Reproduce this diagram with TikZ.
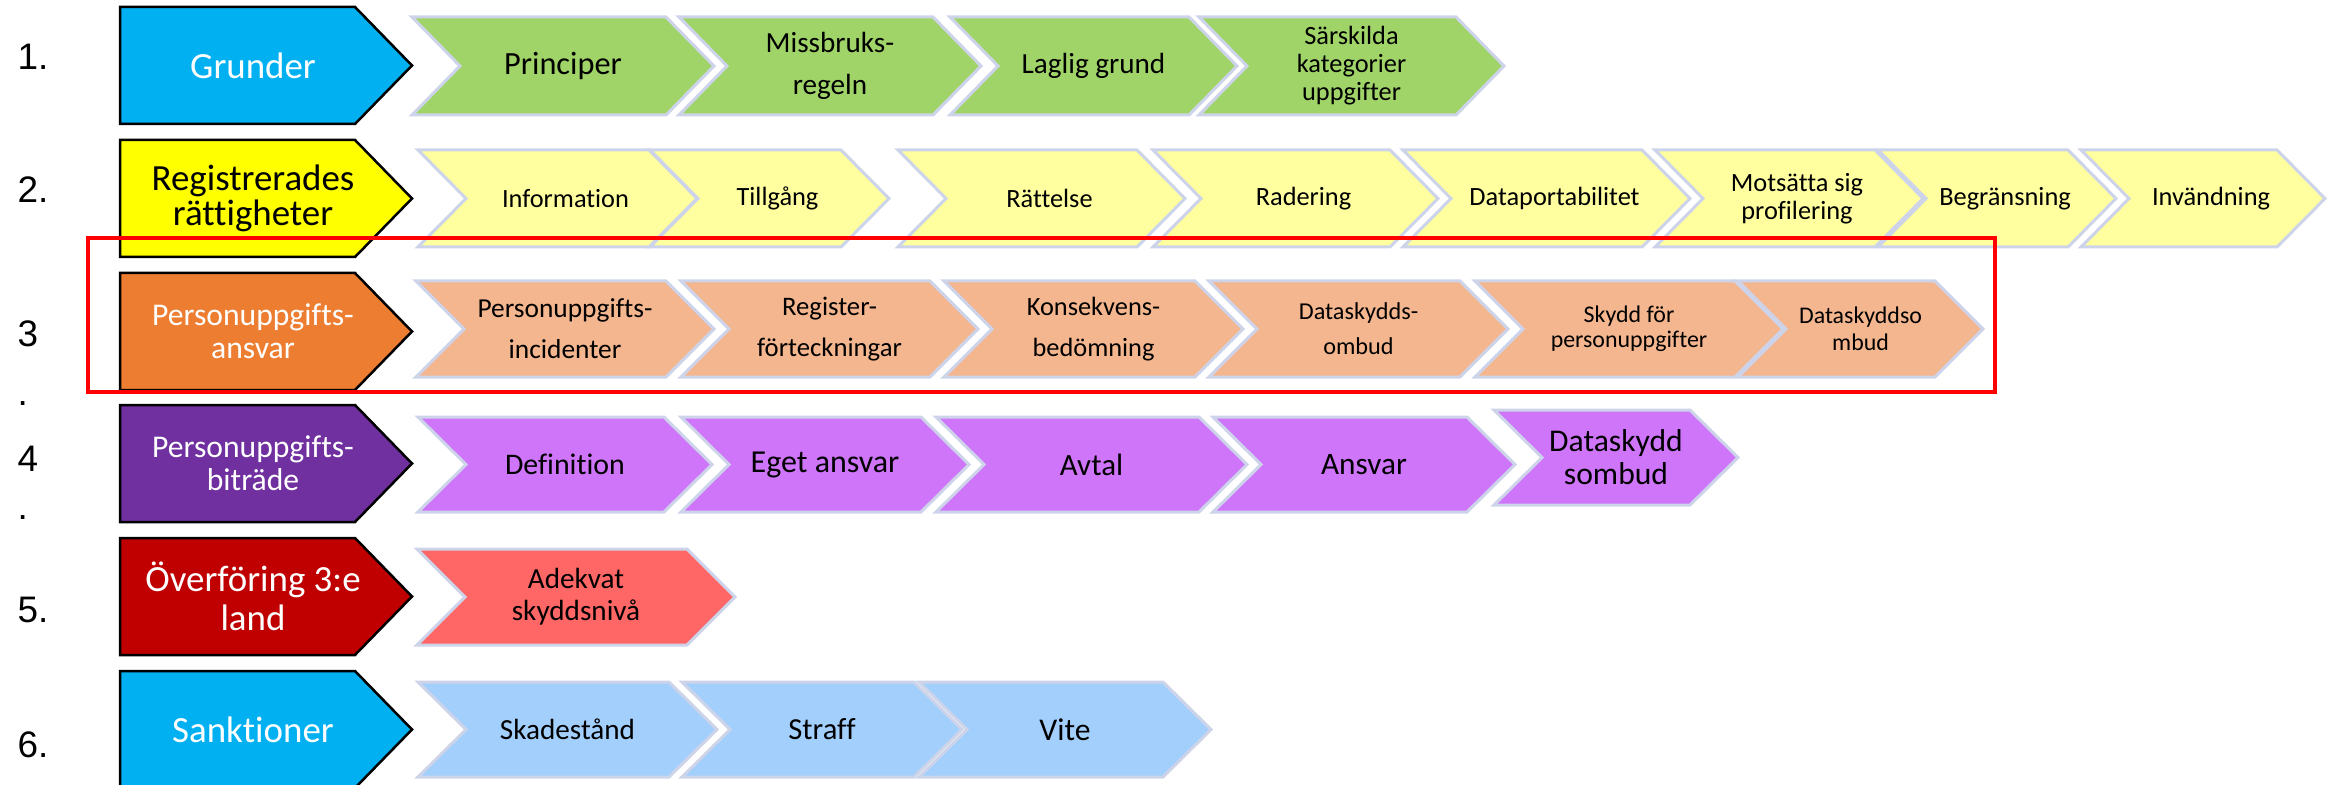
\documentclass[tikz,border=0pt]{standalone}
\usepackage{fontspec}
\setmainfont{Carlito}[Ligatures=NoCommon]
\newfontfamily\numfont{Liberation Sans}
\usepackage{tikz}

\definecolor{headblue}{RGB}{0,176,240}
\definecolor{headyellow}{RGB}{255,255,0}
\definecolor{headorange}{RGB}{237,125,49}
\definecolor{headpurple}{RGB}{112,48,160}
\definecolor{headred}{RGB}{192,0,0}
\definecolor{chgreen}{RGB}{160,212,104}
\definecolor{chyellow}{RGB}{255,255,128}
\definecolor{chorange}{RGB}{244,182,142}
\definecolor{chpurple}{RGB}{207,117,250}
\definecolor{chred}{RGB}{255,102,102}
\definecolor{chblue}{RGB}{163,207,252}
\definecolor{chline}{RGB}{205,212,234}

\newcommand{\fs}[2]{\fontsize{#1}{#2}\selectfont}

\begin{document}
\begin{tikzpicture}[x=0.1mm, y=-0.1mm,
    headbox/.style={draw=black, line width=0.25mm, line join=miter},
    chevbox/.style={draw=chline, line width=0.3mm, line join=miter},
    headtext/.style={align=center, inner sep=0pt},
    chevtext/.style={align=center, inner sep=0pt, text=black},
    rownum/.style={anchor=west, inner sep=0pt, font=\numfont\fs{10.5}{12}}]
  \useasboundingbox (0,0) rectangle (2340,785);

  \foreach \n/\t/\c/\tc/\f/\s/\lbl in {1/7/headblue/white/10.5/10/{Grunder},
      2/140/headyellow/black/10.5/10/{Registrerades\\rättigheter},
      3/273/headorange/white/9/9.4/{Personuppgifts-\\ansvar},
      4/405/headpurple/white/9/9.4/{Personuppgifts-\\biträde},
      5/538/headred/white/10.5/11/{Överföring 3:e\\land},
      6/671/headblue/white/10.5/10/{Sanktioner}}
  {
    \draw[headbox, fill=\c] (120,\t) -- (355,\t) -- (412,\t+58.5) -- (355,\t+117) -- (120,\t+117) -- cycle;
    \node[headtext, text=\tc, font=\fs{\f}{\s}] (head\n) at (253,\t+58.5) {\lbl};
  }

  \node[rownum] (num1) at (17,57) {1.};
  \node[rownum] (num2) at (17,190) {2.};
  \node[rownum, anchor=north west, align=left] (num3) at (17,320) {3\\[4.8pt].};
  \node[rownum, anchor=north west, align=left] (num4) at (17,445) {4\\[1.7pt].};
  \node[rownum] (num5) at (17,610) {5.};
  \node[rownum] (num6) at (17,745) {6.};

  \foreach \n/\l/\r/\f/\s/\lbl in {princ/412/714/9.2/11/{Principer},
      missb/679/981/8.3/12/{Missbruks-\\regeln},
      lagl/950/1237/8.3/10/{Laglig grund},
      sarsk/1199/1504/7.5/8/{Särskilda\\kategorier\\uppgifter}}
  {
    \draw[chevbox, fill=chgreen] (\l,17) -- (\r-48,17) -- (\r,66) -- (\r-48,115) -- (\l,115) -- (\l+48,66) -- cycle;
    \node[chevtext, font=\fs{\f}{\s}] (\n) at ({(\l+\r)/2},66) {\lbl};
  }

  \foreach \n/\l/\r/\lbl in {info/418/697/{Information}, tillg/650/889/{Tillgång},
      ratt/898/1185/{Rättelse}, rad/1153/1438/{Radering},
      dport/1403/1690/{Dataportabilitet}, mots/1655/1923/{Motsätta sig\\profilering},
      begr/1878/2116/{Begränsning}, invand/2081/2325/{Invändning}}
  {
    \draw[chevbox, fill=chyellow, fill opacity=0.75] (\l,150) -- (\r-48,150) -- (\r,198.5) -- (\r-48,247) -- (\l,247) -- (\l+48,198.5) -- cycle;
    \node[chevtext, font=\fs{7.5}{8}] (\n) at ({(\l+\r)/2+8},198.5) {\lbl};
  }

  \foreach \n/\l/\r/\f/\s/\lbl in {incid/416/714/7.8/11.7/{Personuppgifts-\\incidenter},
      regist/681/978/7.6/11.7/{Register-\\förteckningar},
      konsekv/944/1243/7.5/11.7/{Konsekvens-\\bedömning},
      dsombud/1209/1508/6.9/10/{Dataskydds-\\ombud},
      skydd/1475/1783/6.8/7.1/{Skydd för\\personuppgifter},
      dso/1738/1983/6.8/7.7/{Dataskyddso\\mbud}}
  {
    \draw[chevbox, fill=chorange] (\l,281) -- (\r-48,281) -- (\r,329) -- (\r-48,377) -- (\l,377) -- (\l+48,329) -- cycle;
    \node[chevtext, font=\fs{\f}{\s}] (\n) at ({(\l+\r)/2},329) {\lbl};
  }

  \foreach \n/\l/\r/\f/\lbl in {defin/418/712/8.5/{Definition}, eget/681/969/9.1/{Eget ansvar},
      avtal/936/1247/8.8/{Avtal}, ansv/1213/1515/8.9/{Ansvar}}
  {
    \draw[chevbox, fill=chpurple] (\l,417) -- (\r-48,417) -- (\r,464.5) -- (\r-48,512) -- (\l,512) -- (\l+48,464.5) -- cycle;
    \node[chevtext, font=\fs{\f}{10}] (\n) at ({(\l+\r)/2},464.5) {\lbl};
  }
  \draw[chevbox, fill=chpurple] (1494,410) -- (1690,410) -- (1738,457.5) -- (1690,505) -- (1494,505) -- (1542,457.5) -- cycle;
  \node[chevtext, font=\fs{9}{9.4}] (dsk) at (1616,457.5) {Dataskydd\\sombud};

  \draw[chevbox, fill=chred] (417,549) -- (687,549) -- (735,597) -- (687,645) -- (417,645) -- (465,597) -- cycle;
  \node[chevtext, font=\fs{8.3}{9.1}] (adekv) at (576,597) {Adekvat\\skyddsnivå};

  \foreach \n/\l/\r/\f/\lbl in {skade/418/717/8.3/{Skadestånd}, straff/682/962/8.7/{Straff},
      vite/919/1211/9/{Vite}}
  {
    \draw[chevbox, fill=chblue] (\l,682) -- (\r-48,682) -- (\r,729.5) -- (\r-48,777) -- (\l,777) -- (\l+48,729.5) -- cycle;
    \node[chevtext, font=\fs{\f}{10}] (\n) at ({(\l+\r)/2},729.5) {\lbl};
  }

  \draw[red, line width=0.45mm] (88,238) rectangle (1995,392);
\end{tikzpicture}
\end{document}
